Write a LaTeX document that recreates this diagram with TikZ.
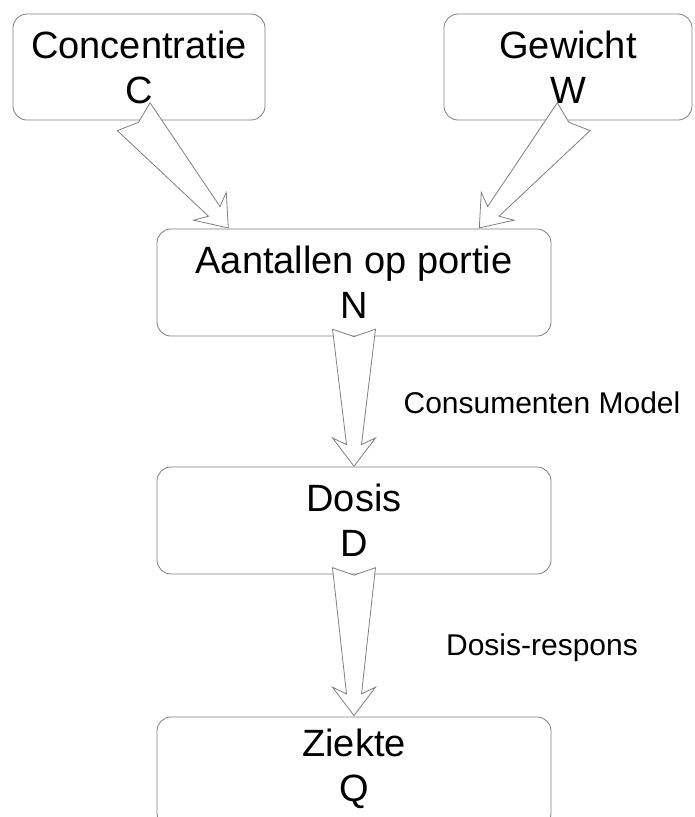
\documentclass[tikz,border=0pt]{standalone}
\usepackage{fontspec}
\setmainfont{Liberation Sans}
\usetikzlibrary{calc}
\definecolor{boxgray}{gray}{0.5}
\tikzset{
  box/.style={draw=boxgray, line width=0.8pt, rounded corners=14pt, fill=white,
    align=center, font=\fontsize{38}{45}\selectfont, inner sep=0pt},
  arrowline/.style={draw=boxgray, line width=0.8pt, fill=white, line join=miter},
  lbl/.style={font=\fontsize{30}{36}\selectfont, anchor=base, inner sep=0pt}
}
% tapered, notched block arrow from tail midpoint #1 to tip #2
\newcommand\myblockarrow[2]{%
  \draw[arrowline]
    ($(#1)!21.5pt!90:(#2)$) --
    ($(#1)!7.4pt!(#2)$) --
    ($(#1)!21.5pt!-90:(#2)$) --
    ($(#2)!21.7pt!(#1)!7.5pt!-90:(#2)$) --
    ($(#2)!28.4pt!(#1)!21.5pt!-90:(#2)$) --
    (#2) --
    ($(#2)!28.4pt!(#1)!21.5pt!90:(#2)$) --
    ($(#2)!21.7pt!(#1)!7.5pt!90:(#2)$) -- cycle;}
\begin{document}
\begin{tikzpicture}[x=1pt,y=-1pt]
  \clip (0,0) rectangle (694,817);
  \fill[white] (0,0) rectangle (694,817);
  % boxes
  \node[box, minimum width=252pt, minimum height=106pt] (C) at (139,67) {Concentratie\\C};
  \node[box, minimum width=248pt, minimum height=106pt] (W) at (568,67) {Gewicht\\W};
  \node[box, minimum width=394pt, minimum height=107pt] (N) at (354,282.5) {Aantallen op portie\\N};
  \node[box, minimum width=394pt, minimum height=107pt] (D) at (354,520.5) {Dosis\\D};
  \node[box, minimum width=394pt, minimum height=110pt, text depth=13pt] (Q) at (354,772) {Ziekte\\Q};
  % arrow end points
  \coordinate (cT) at ($(C.south)+(-5.3,-3.7)$);
  \coordinate (cP) at ($(N.north)+(-125.7,-0.7)$);
  \coordinate (wT) at ($(W.south)+(5.7,-3.7)$);
  \coordinate (wP) at ($(N.north)+(125.3,-0.7)$);
  \coordinate (nT) at ($(N.south)+(0,-7.2)$);
  \coordinate (nP) at ($(D.north)+(0,-0.3)$);
  \coordinate (dT) at ($(D.south)+(0,-6.7)$);
  \coordinate (dP) at ($(Q.north)+(0,-1)$);
  % arrows
  \myblockarrow{cT}{cP}
  \myblockarrow{wT}{wP}
  \myblockarrow{nT}{nP}
  \myblockarrow{dT}{dP}
  % labels
  \node[lbl] (lcm) at (542,413.3) {Consumenten Model};
  \node[lbl] (ldr) at (542,655) {Dosis-respons};
\end{tikzpicture}
\end{document}
